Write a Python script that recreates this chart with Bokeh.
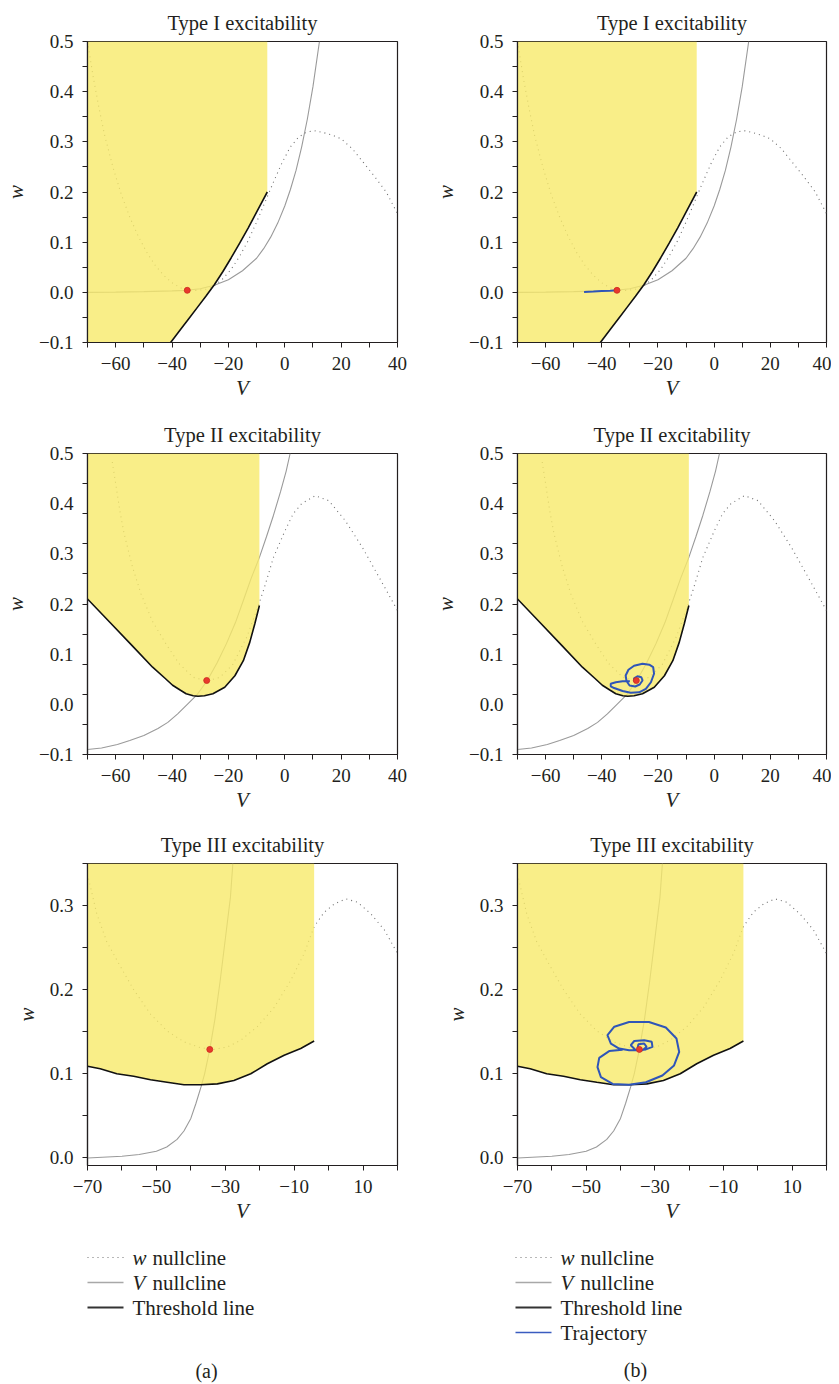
from bokeh.plotting import figure
from bokeh.models import Range1d, FixedTicker, CustomJSTickFormatter
from bokeh.layouts import column, row
from bokeh.embed import file_html
from bokeh.resources import INLINE
from bokeh.core.properties import value

FONT = "Liberation Serif"

# ---------------- data ----------------
# Type I excitability
t1_wnull_V = [-70, -68, -66, -64, -61, -58, -55, -52, -49, -46, -43, -40, -37, -34, -31, -28, -25,
              -22, -19, -16, -13, -10, -7, -4, -1, 2, 5, 8, 11, 14, 17, 20, 24, 28, 32, 36, 40]
t1_wnull_w = [0.50, 0.43, 0.37, 0.315, 0.25, 0.195, 0.15, 0.112, 0.08, 0.054, 0.034, 0.019,
              0.009, 0.004, 0.004, 0.006, 0.013, 0.027, 0.046, 0.072, 0.103, 0.14, 0.18, 0.22,
              0.258, 0.29, 0.31, 0.32, 0.322, 0.318, 0.313, 0.306, 0.286, 0.258, 0.23, 0.20, 0.157]
t1_vnull_V = [-70, -60, -50, -40, -35, -30, -25, -20, -15, -10, -7.5, -5, -2.5, 0, 2, 4, 6, 8,
              10, 12.3]
t1_vnull_w = [0.0, 0.0005, 0.0015, 0.003, 0.004, 0.007, 0.014, 0.025, 0.043, 0.068, 0.087, 0.11,
              0.138, 0.172, 0.205, 0.243, 0.29, 0.345, 0.41, 0.5]
t1_thr_V = [-40.5, -37, -34, -31, -28, -25, -22, -19, -16, -13, -10, -6.2]
t1_thr_w = [-0.100, -0.074, -0.052, -0.030, -0.008, 0.015, 0.041, 0.069, 0.098, 0.128, 0.160, 0.200]
t1_fix = ([-34.6], [0.004])
t1_traj_V = [-46.3, -43, -40, -37, -34.6]
t1_traj_w = [0.0007, 0.0015, 0.0025, 0.0033, 0.004]

# Type II excitability
t2_wnull_V = [-61.2, -60, -58.5, -57, -54, -51, -47, -42, -37.5, -32.5, -27.5, -23, -18.5, -13.5,
              -10, -7.5, -4, 0, 3, 6, 10.8, 15.6, 21.5, 27.5, 33.5, 40]
t2_wnull_w = [0.483, 0.44, 0.385, 0.34, 0.273, 0.22, 0.166, 0.119, 0.081, 0.054, 0.0465, 0.054,
              0.079, 0.134, 0.187, 0.228, 0.293, 0.345, 0.38, 0.40, 0.416, 0.406, 0.366, 0.313,
              0.253, 0.187]
t2_vnull_V = [-70, -65, -59.4, -55, -50, -45, -41.5, -38, -34.4, -31, -27.5, -24, -20.7, -17.5,
              -14.7, -12, -9, -6.5, -4, -1.5, 0.5, 1.9]
t2_vnull_w = [-0.09, -0.087, -0.08, -0.072, -0.062, -0.048, -0.036, -0.019, 0.001, 0.02, 0.0475,
              0.083, 0.121, 0.163, 0.207, 0.25, 0.293, 0.334, 0.377, 0.424, 0.465, 0.5]
t2_thr_V = [-70, -62, -54, -46.9, -42.5, -39.8, -37, -35, -32.5, -30.8, -28.5, -25.5, -21.3,
            -17.7, -14.7, -12.4, -10.6, -9.0]
t2_thr_w = [0.21, 0.163, 0.116, 0.074, 0.052, 0.038, 0.028, 0.021, 0.017, 0.016, 0.017, 0.021,
            0.034, 0.057, 0.087, 0.124, 0.161, 0.197]
t2_fix = ([-27.7], [0.0475])
t2_traj_V = [-30.0, -32.6, -35.0, -36.8, -36.8, -35.6, -32.6, -29.7, -26.7, -24.3, -22.5, -21.4,
             -21.7, -23.1, -25.5, -28.5, -30.5, -31.5, -31.2, -30.1, -28.1, -26.5, -25.5, -25.9,
             -27.3, -28.5, -28.4, -27.8]
t2_traj_w = [0.046, 0.0458, 0.044, 0.041, 0.036, 0.0325, 0.0265, 0.023, 0.024, 0.031, 0.044,
             0.061, 0.074, 0.079, 0.081, 0.077, 0.069, 0.0575, 0.0465, 0.0376, 0.0356, 0.0396,
             0.0475, 0.054, 0.056, 0.052, 0.046, 0.047]

# Type III excitability
t3_wnull_V = [-69.7, -67.3, -64.4, -60.5, -56.6, -51.7, -46.9, -42.0, -37.2, -33.3, -29.4, -25.5,
              -20.7, -15.8, -11.0, -7.1, -4.2, -1.3, 1.7, 5.0, 8.4, 12.3, 16.2, 20]
t3_wnull_w = [0.332, 0.29, 0.257, 0.228, 0.2, 0.171, 0.151, 0.138, 0.131, 0.129, 0.132, 0.140,
              0.156, 0.179, 0.211, 0.243, 0.275, 0.292, 0.302, 0.308, 0.304, 0.29, 0.271, 0.243]
t3_vnull_V = [-70, -60, -55, -50, -47, -44, -42, -40, -38.5, -37, -36, -34.5, -33, -31.5, -30,
              -28.5, -27.8]
t3_vnull_w = [0.0, 0.002, 0.004, 0.008, 0.013, 0.022, 0.032, 0.047, 0.065, 0.085, 0.10, 0.129,
              0.165, 0.21, 0.26, 0.31, 0.35]
t3_thr_V = [-70, -66.3, -61.5, -56.6, -51.7, -46.9, -42.0, -37.2, -32.3, -27.5, -22.6, -17.8,
            -12.9, -8.1, -4.2]
t3_thr_w = [0.109, 0.106, 0.100, 0.097, 0.093, 0.090, 0.087, 0.087, 0.088, 0.092, 0.100, 0.112,
            0.122, 0.130, 0.139]
t3_fix = ([-34.5], [0.129])
t3_traj_V = [-39.4, -43.3, -46.2, -46.7, -45.7, -42.3, -37.5, -32.6, -27.8, -24.4, -22.9, -23.7,
             -26.8, -31.7, -37.5, -41.8, -43.8, -42.8, -40.4, -37.5, -35.0, -32.6, -30.7, -30.9,
             -33.1, -36.0, -37.0, -35.7, -33.6, -32.4, -33.1, -34.8, -35.0, -34.6]
t3_traj_w = [0.1286, 0.127, 0.119, 0.108, 0.096, 0.088, 0.087, 0.090, 0.098, 0.110, 0.126, 0.142,
             0.155, 0.1615, 0.1615, 0.156, 0.146, 0.136, 0.130, 0.128, 0.128, 0.129, 0.132, 0.138,
             0.140, 0.139, 0.134, 0.1286, 0.128, 0.132, 0.136, 0.135, 0.131, 0.129]

# axes / ticks
titles = ["Type I excitability", "Type II excitability", "Type III excitability"]
x_ticks_12 = [-60, -40, -20, 0, 20, 40]
x_minor_12 = [-70, -50, -30, -10, 10, 30]
y_ticks_12 = [-0.1, 0.0, 0.1, 0.2, 0.3, 0.4, 0.5]
y_minor_1 = [-0.05, 0.05, 0.15, 0.25, 0.35, 0.45]
y_minor_2 = [-0.1, -0.04, 0.02, 0.08, 0.14, 0.2, 0.26, 0.32, 0.38, 0.44, 0.5]
x_ticks_3 = [-70, -50, -30, -10, 10]
x_minor_3 = [-60, -40, -20, 0, 20]
y_ticks_3 = [0.0, 0.1, 0.2, 0.3]
y_minor_3 = [0.05, 0.15, 0.25, 0.35]
legend_labels = ["w nullcline", "V nullcline", "Threshold line", "Trajectory"]
panel_tags = ["(a)", "(b)"]

# styles
YELLOW = "#F8EA6A"
GRAY_SOLID = "#9a9a9a"
GRAY_DOT = "#707070"
BLUE = "#2f55b8"
RED = "#e8392c"
INK = "#231f20"


def fmt(dec):
    return CustomJSTickFormatter(code="""
        const v = Math.abs(tick) < 1e-9 ? 0 : tick;
        const s = Math.abs(v).toFixed(%d);
        return v < 0 ? "\\u2212" + s : s;
    """ % dec)


def panel(title, col, fh, mbt, mbb, xr, yr, xt, xm, yt, ym, y_major_out,
          wV, ww, vV, vw, tV, tw, fix, trV=None, trw=None):
    if col == 0:
        mbl, fw, mbr = 87, 310, 20
    else:
        mbl, fw, mbr = 100, 309, 5
    p = figure(frame_width=fw, frame_height=fh, x_range=Range1d(*xr), y_range=Range1d(*yr),
               min_border_left=mbl, min_border_right=mbr, min_border_top=mbt,
               min_border_bottom=mbb, output_backend="svg", toolbar_location=None, title=title)
    p.title.align = "center"
    p.title.text_font = FONT
    p.title.text_font_style = "normal"
    p.title.text_font_size = "20.5px"
    p.title.text_color = INK
    p.title.standoff = 16
    p.grid.visible = False
    p.outline_line_color = INK
    p.outline_line_alpha = 1.0
    p.outline_line_width = 1.2
    p.background_fill_color = "white"

    p.xaxis.ticker = FixedTicker(ticks=xt, minor_ticks=xm)
    p.yaxis.ticker = FixedTicker(ticks=yt, minor_ticks=ym)
    p.xaxis.formatter = fmt(0)
    p.yaxis.formatter = fmt(1)
    for ax in (p.xaxis[0], p.yaxis[0]):
        ax.axis_line_color = INK
        ax.axis_line_width = 1.2
        ax.major_tick_line_color = INK
        ax.minor_tick_line_color = INK
        ax.major_tick_in = 0
        ax.minor_tick_in = 0
        ax.major_tick_out = 5
        ax.minor_tick_out = 5
        ax.major_label_text_font = FONT
        ax.major_label_text_font_size = "19px"
        ax.major_label_text_color = INK
        ax.axis_label_text_font = FONT
        ax.axis_label_text_font_style = "italic"
        ax.axis_label_text_font_size = "21px"
        ax.axis_label_text_color = INK
    p.yaxis.major_tick_out = y_major_out
    p.xaxis.axis_label = "V"
    p.yaxis.axis_label = "w"
    p.xaxis.major_label_standoff = 9
    p.yaxis.major_label_standoff = 9
    p.xaxis.axis_label_standoff = 3
    p.yaxis.axis_label_standoff = 8

    # nullclines
    p.line(wV, ww, line_color=GRAY_DOT, line_width=1.1, line_dash="1 4")
    p.line(vV, vw, line_color=GRAY_SOLID, line_width=1.1)

    # subthreshold (yellow) region built from the threshold line
    top = yr[1]
    px = [xr[0], tV[-1]] + tV[::-1] + [xr[0]]
    py = [top, top] + tw[::-1] + [tw[0]]
    p.patch(px, py, fill_color=YELLOW, fill_alpha=0.8, line_color=None)

    p.line(tV, tw, line_color="#111111", line_width=1.6)
    if trV is not None:
        p.line(trV, trw, line_color=BLUE, line_width=2.0)
    p.scatter(fix[0], fix[1], size=6, fill_color=RED, line_color="#cc2a20", line_width=0.8)
    return p


r1 = dict(fh=301, mbt=41, mbb=70, xr=(-70, 40), yr=(-0.1, 0.5), xt=x_ticks_12, xm=x_minor_12,
          yt=y_ticks_12, ym=y_minor_1, y_major_out=5)
r2 = dict(fh=301, mbt=41, mbb=68, xr=(-70, 40), yr=(-0.1, 0.5), xt=x_ticks_12, xm=x_minor_12,
          yt=y_ticks_12, ym=y_minor_2, y_major_out=0)
r3 = dict(fh=302, mbt=41, mbb=60, xr=(-70, 20), yr=(-0.009, 0.35), xt=x_ticks_3, xm=x_minor_3,
          yt=y_ticks_3, ym=y_minor_3, y_major_out=5)

p1 = panel(titles[0], 0, wV=t1_wnull_V, ww=t1_wnull_w, vV=t1_vnull_V, vw=t1_vnull_w,
           tV=t1_thr_V, tw=t1_thr_w, fix=t1_fix, **r1)
p2 = panel(titles[0], 1, wV=t1_wnull_V, ww=t1_wnull_w, vV=t1_vnull_V, vw=t1_vnull_w,
           tV=t1_thr_V, tw=t1_thr_w, fix=t1_fix, trV=t1_traj_V, trw=t1_traj_w, **r1)
p3 = panel(titles[1], 0, wV=t2_wnull_V, ww=t2_wnull_w, vV=t2_vnull_V, vw=t2_vnull_w,
           tV=t2_thr_V, tw=t2_thr_w, fix=t2_fix, **r2)
p4 = panel(titles[1], 1, wV=t2_wnull_V, ww=t2_wnull_w, vV=t2_vnull_V, vw=t2_vnull_w,
           tV=t2_thr_V, tw=t2_thr_w, fix=t2_fix, trV=t2_traj_V, trw=t2_traj_w, **r2)
p5 = panel(titles[2], 0, wV=t3_wnull_V, ww=t3_wnull_w, vV=t3_vnull_V, vw=t3_vnull_w,
           tV=t3_thr_V, tw=t3_thr_w, fix=t3_fix, **r3)
p6 = panel(titles[2], 1, wV=t3_wnull_V, ww=t3_wnull_w, vV=t3_vnull_V, vw=t3_vnull_w,
           tV=t3_thr_V, tw=t3_thr_w, fix=t3_fix, trV=t3_traj_V, trw=t3_traj_w, **r3)

# ---------------- legends and panel tags (pixel-space figure) ----------------
LW, LH = 831, 159
lg = figure(frame_width=LW, frame_height=LH, x_range=Range1d(0, LW), y_range=Range1d(LH, 0),
            min_border=0, x_axis_type=None, y_axis_type=None, output_backend="svg",
            toolbar_location=None)
lg.grid.visible = False
lg.outline_line_color = None

row_y = [32, 57, 82, 107]
styles = [dict(line_color=GRAY_DOT, line_width=1.1, line_dash="1 4"),
          dict(line_color="#a8a8a8", line_width=1.5),
          dict(line_color="#333333", line_width=2.2),
          dict(line_color="#3a5cc0", line_width=1.6)]
for cx, n in ((87, 3), (515, 4)):
    for i in range(n):
        y = row_y[i]
        lg.segment(x0=[cx], y0=[y], x1=[cx + 36], y1=[y], **styles[i])
        lab = legend_labels[i]
        tx = cx + 45
        if i < 2:
            first, rest = lab.split(" ", 1)
            lg.text(x=[tx], y=[y], text=[first], text_font=value(FONT), text_font_size="21px",
                    text_font_style="italic", text_baseline="middle", text_align="left",
                    text_color=INK)
            lg.text(x=[tx + 20], y=[y], text=[rest], text_font=value(FONT),
                    text_font_size="21px", text_baseline="middle", text_align="left",
                    text_color=INK)
        else:
            lg.text(x=[tx], y=[y], text=[lab], text_font=value(FONT), text_font_size="21px",
                    text_baseline="middle", text_align="left", text_color=INK)

lg.text(x=[206, 635], y=[145, 144], text=panel_tags, text_font=value(FONT),
        text_font_size="20px", text_baseline="middle", text_align="center",
        text_color=INK)

layout = column(row(p1, p2, spacing=0), row(p3, p4, spacing=0), row(p5, p6, spacing=0), lg,
                spacing=0)

open("out.html", "w").write(file_html(layout, INLINE))
